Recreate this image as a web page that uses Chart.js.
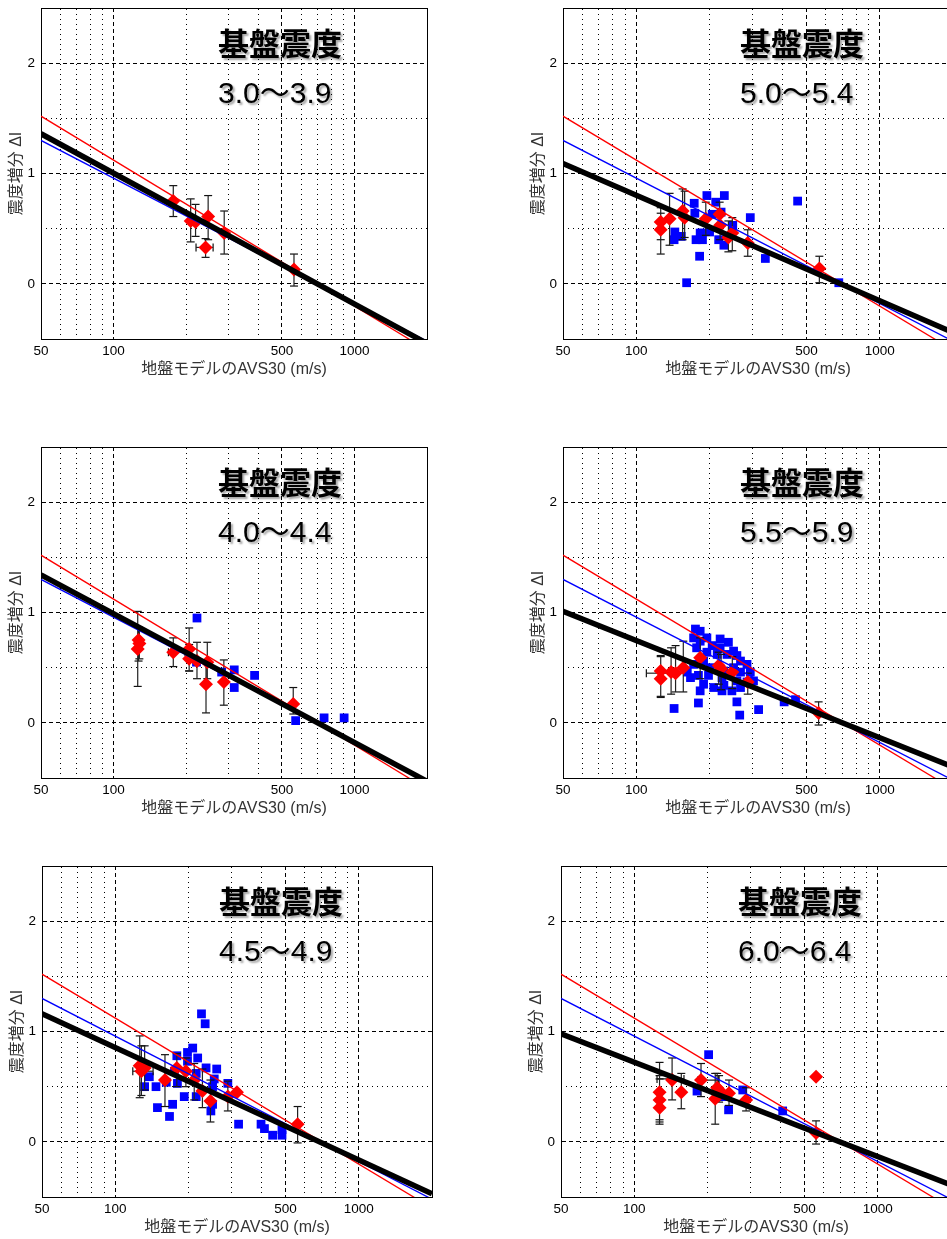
<!DOCTYPE html>
<html>
<head>
<meta charset="utf-8">
<script src="https://cdn.jsdelivr.net/npm/chart.js@4.4.1/dist/chart.umd.min.js"></script>
<style>
html, body { margin: 0; padding: 0; background: #fff; }
body { position: relative; width: 947px; height: 1239px; overflow: hidden; }
canvas { position: absolute; }
.head { position: absolute; white-space: nowrap; color: #000; text-shadow: 2px 2px 2px rgba(0,0,0,0.35); }
.t1 { font: bold 31px "Noto Sans CJK JP"; line-height: 31px; }
.t2 { font: 30px "Liberation Sans", "Noto Sans CJK JP"; line-height: 30px; }
</style>
</head>
<body>
<script>
// panel order: row by row, left then right
const ranges = ['3.0～3.9', '5.0～5.4', '4.0～4.4', '5.5～5.9', '4.5～4.9', '6.0～6.4'];

// axis ticks
const xMajor = [50, 100, 500, 1000];
const xMinor = [60, 70, 80, 90, 200, 300, 400, 600, 700, 800, 900];
const yMajor = [0, 1, 2];
const yMinor = [0.5, 1.5];

// regression lines: value at AVS30 = 50 and 2000
const redFit = [1.52, -0.60];
const blueFit = [1.30, -0.52];
const blackStart = [1.36, 1.09, 1.34, 1.01, 1.16, 0.98];
const blackEnd = [-0.54, -0.44, -0.53, -0.40, -0.47, -0.39];

// red diamonds: [AVS30, dI, low, high]
const red1 = [[177, 0.75, 0.61, 0.89], [209, 0.57, 0.38, 0.77], [219, 0.56, 0.43, 0.72], [247, 0.61, 0.40, 0.80],
  [241, 0.33, 0.24, 0.41], [288, 0.46, 0.27, 0.66], [561, 0.13, -0.02, 0.27]];
const red2 = [[126, 0.56, 0.40, 0.69], [126, 0.49, 0.27, 0.64], [137, 0.59, 0.35, 0.82], [155, 0.66, 0.40, 0.86],
  [158, 0.60, 0.42, 0.84], [193, 0.59, 0.44, 0.74], [220, 0.63, 0.50, 0.74], [221, 0.53, 0.40, 0.66],
  [239, 0.42, 0.29, 0.57], [248, 0.46, 0.30, 0.60], [287, 0.37, 0.25, 0.49], [565, 0.14, 0.01, 0.25]];
const red3 = [[126, 0.67, 0.33, 1.01], [127, 0.75, 0.56, 0.87], [128, 0.72, 0.58, 0.86], [177, 0.64, 0.51, 0.77],
  [206, 0.67, 0.47, 0.86], [206, 0.58, 0.47, 0.71], [222, 0.56, 0.40, 0.73], [245, 0.55, 0.40, 0.73],
  [242, 0.35, 0.09, 0.55], [287, 0.37, 0.16, 0.57], [557, 0.17, 0.08, 0.32]];
const red4 = [[126, 0.47, 0.24, 0.61], [126, 0.40, 0.23, 0.60], [139, 0.46, 0.26, 0.68], [145, 0.45, 0.28, 0.70],
  [156, 0.50, 0.28, 0.74], [183, 0.59, 0.40, 0.77], [218, 0.52, 0.35, 0.64], [223, 0.49, 0.30, 0.62],
  [248, 0.46, 0.31, 0.60], [287, 0.37, 0.26, 0.45], [561, 0.09, -0.02, 0.19]];
const red5 = [[126, 0.69, 0.40, 0.96], [128, 0.64, 0.42, 0.87], [132, 0.67, 0.47, 0.87], [160, 0.56, 0.32, 0.79],
  [179, 0.67, 0.50, 0.80], [195, 0.64, 0.50, 0.76], [211, 0.56, 0.38, 0.71], [228, 0.46, 0.31, 0.66],
  [246, 0.37, 0.18, 0.56], [290, 0.41, 0.28, 0.55], [316, 0.45, null, null], [561, 0.16, -0.01, 0.32]];
const red6 = [[127, 0.45, 0.20, 0.72], [127, 0.38, 0.18, 0.60], [127, 0.31, 0.16, 0.57], [143, 0.56, 0.38, 0.76],
  [156, 0.45, 0.30, 0.62], [188, 0.56, 0.41, 0.71], [219, 0.49, 0.38, 0.62], [223, 0.47, 0.36, 0.60],
  [215, 0.39, 0.16, 0.62], [245, 0.44, 0.33, 0.56], [288, 0.38, 0.28, 0.49], [558, 0.59, null, null],
  [558, 0.08, -0.02, 0.19]];

// horizontal error bars: [AVS30, dI, low AVS30, high AVS30]
const xerr1 = [[241, 0.33, 220, 259]];
const xerr2 = [];
const xerr3 = [[177, 0.64, 169, 198]];
const xerr4 = [[126, 0.45, 110, 142]];
const xerr5 = [[126, 0.64, 118, 143]];
const xerr6 = [[143, 0.57, 124, 160], [200, 0.56, 183, 222]];

// blue squares: [AVS30, dI]
const blue1 = [];
const blue2 = [[161, 0.01], [182, 0.25], [195, 0.80], [230, 0.80], [212, 0.74], [173, 0.73], [460, 0.75], [294, 0.60],
  [223, 0.65], [174, 0.64], [249, 0.53], [144, 0.47], [143, 0.40], [153, 0.43], [176, 0.40], [187, 0.40],
  [183, 0.46], [200, 0.47], [218, 0.40], [229, 0.35], [339, 0.23], [679, 0.01], [205, 0.63], [186, 0.46]];
const blue3 = [[222, 0.95], [221, 0.55], [317, 0.48], [317, 0.32], [281, 0.46], [385, 0.43], [570, 0.02],
  [748, 0.045], [906, 0.045]];
const blue4 = [[175, 0.85], [183, 0.83], [172, 0.77], [195, 0.77], [221, 0.76], [239, 0.73], [183, 0.74], [205, 0.70],
  [221, 0.68], [251, 0.65], [177, 0.68], [195, 0.64], [215, 0.62], [236, 0.62], [259, 0.61], [268, 0.56],
  [285, 0.53], [172, 0.53], [189, 0.56], [201, 0.50], [229, 0.47], [251, 0.50], [268, 0.46], [294, 0.46],
  [162, 0.46], [180, 0.43], [198, 0.43], [225, 0.41], [259, 0.38], [285, 0.37], [303, 0.38], [189, 0.35],
  [208, 0.32], [229, 0.34], [183, 0.29], [225, 0.29], [247, 0.29], [268, 0.32], [180, 0.18], [259, 0.19],
  [318, 0.12], [266, 0.07], [143, 0.13], [167, 0.41], [405, 0.19], [451, 0.21]];
const blue5 = [[226, 1.16], [234, 1.07], [208, 0.85], [198, 0.81], [179, 0.78], [218, 0.76], [198, 0.73], [236, 0.67],
  [261, 0.66], [175, 0.64], [215, 0.62], [138, 0.59], [255, 0.57], [290, 0.53], [180, 0.53], [162, 0.54],
  [132, 0.50], [147, 0.50], [251, 0.50], [192, 0.41], [215, 0.41], [172, 0.34], [251, 0.34], [149, 0.31],
  [247, 0.28], [167, 0.23], [321, 0.16], [397, 0.16], [410, 0.12], [443, 0.06], [484, 0.06], [484, 0.11]];
const blue6 = [[202, 0.79], [181, 0.46], [244, 0.29], [279, 0.47], [407, 0.28], [233, 0.41]];

const reds = [red1, red2, red3, red4, red5, red6];
const blues = [blue1, blue2, blue3, blue4, blue5, blue6];
const xerrs = [xerr1, xerr2, xerr3, xerr4, xerr5, xerr6];

// chart area of each panel in page pixels: left, top, width, height
const frames = [[41, 8, 386, 331], [563, 8, 390, 331], [41, 447, 386, 331],
  [563, 447, 390, 331], [42, 866, 390, 331], [561, 866, 390, 331]];

const fam = '"Liberation Sans", "Noto Sans CJK JP", sans-serif';
const tickFont = { family: fam, size: 13.5 };
const titleFont = { family: fam, size: 16 };

function setTicks(vals) {
  return s => { s.ticks = vals.map(v => ({ value: v })); };
}

function makeScales() {
  return {
    x: {
      type: 'logarithmic', position: 'bottom', min: 50, max: 2000,
      afterBuildTicks: setTicks(xMajor),
      afterFit: s => { s.height = 46; s.paddingLeft = 0; s.paddingRight = 0; },
      ticks: { autoSkip: false, maxRotation: 0, padding: 4, color: '#000', font: tickFont, callback: v => String(v) },
      grid: { color: '#000', lineWidth: 1, drawTicks: false },
      border: { display: true, color: '#000', width: 1, dash: [4, 3] },
      title: { display: true, text: '地盤モデルのAVS30 (m/s)', color: '#333', font: titleFont, padding: { top: 0, bottom: 6 } }
    },
    x2: {
      type: 'logarithmic', position: 'top', min: 50, max: 2000,
      afterBuildTicks: setTicks(xMinor),
      afterFit: s => { s.height = 0; s.paddingLeft = 0; s.paddingRight = 0; },
      ticks: { display: false },
      grid: { color: '#000', lineWidth: 1, drawTicks: false },
      border: { display: true, color: '#000', width: 1, dash: [1, 4] }
    },
    y: {
      type: 'linear', position: 'left', min: -0.5, max: 2.5,
      afterBuildTicks: setTicks(yMajor),
      afterFit: s => { s.width = 41; s.paddingTop = 0; s.paddingBottom = 0; },
      ticks: { padding: 6, color: '#000', font: tickFont },
      grid: { color: '#000', lineWidth: 1, drawTicks: false },
      border: { display: true, color: '#000', width: 1, dash: [4, 3] },
      title: { display: true, text: '震度増分 ΔI', color: '#333', font: titleFont, padding: { top: 7, bottom: 0 } }
    },
    y2: {
      type: 'linear', position: 'right', min: -0.5, max: 2.5,
      afterBuildTicks: setTicks(yMinor),
      afterFit: s => { s.width = 0; s.paddingTop = 0; s.paddingBottom = 0; },
      ticks: { display: false },
      grid: { color: '#000', lineWidth: 1, drawTicks: false },
      border: { display: true, color: '#000', width: 1, dash: [1, 4] }
    }
  };
}

function makeDatasets(i) {
  const vSeg = [], vCap = [], hSeg = [], hCap = [];
  reds[i].forEach(([v, d, lo, hi]) => {
    if (lo === null) return;
    vSeg.push({ x: v, y: lo }, { x: v, y: hi }, { x: v, y: null });
    vCap.push({ x: v, y: lo }, { x: v, y: hi });
  });
  xerrs[i].forEach(([v, d, lo, hi]) => {
    hSeg.push({ x: lo, y: d }, { x: hi, y: d }, { x: hi, y: null });
    hCap.push({ x: lo, y: d }, { x: hi, y: d });
  });
  const fitLine = (a, b) => [{ x: 50, y: a }, { x: 2000, y: b }];
  return [
    { data: fitLine(blackStart[i], blackEnd[i]), showLine: true, borderColor: '#000', borderWidth: 5.5, pointRadius: 0, clip: 0, order: 0 },
    { data: fitLine(blueFit[0], blueFit[1]), showLine: true, borderColor: '#0000ff', borderWidth: 1.3, pointRadius: 0, clip: 0, order: 1 },
    { data: fitLine(redFit[0], redFit[1]), showLine: true, borderColor: '#ff0000', borderWidth: 1.3, pointRadius: 0, clip: 0, order: 2 },
    { data: reds[i].map(r => ({ x: r[0], y: r[1] })), pointStyle: 'rectRot', pointRadius: 7, backgroundColor: '#ff0000', borderWidth: 0, order: 3 },
    { data: vSeg, showLine: true, spanGaps: false, borderColor: '#222', borderWidth: 1.2, pointRadius: 0, order: 4 },
    { data: vCap, pointStyle: 'line', pointRadius: 4, borderColor: '#111', borderWidth: 1.2, order: 4 },
    { data: hSeg, showLine: true, spanGaps: false, borderColor: '#222', borderWidth: 1.2, pointRadius: 0, order: 4 },
    { data: hCap, pointStyle: 'line', pointRotation: 90, pointRadius: 4, borderColor: '#111', borderWidth: 1.2, order: 4 },
    { data: blues[i].map(b => ({ x: b[0], y: b[1] })), pointStyle: 'rect', pointRadius: 6.2, backgroundColor: '#0000ff', borderWidth: 0, order: 5 }
  ];
}

frames.forEach(([L, T, W, H], i) => {
  const cv = document.createElement('canvas');
  const cw = 41 + W + 12, ch = 8 + H + 46;
  cv.width = cw; cv.height = ch;
  cv.style.left = (L - 41) + 'px';
  cv.style.top = (T - 8) + 'px';
  cv.style.width = cw + 'px';
  cv.style.height = ch + 'px';
  document.body.appendChild(cv);

  new Chart(cv, {
    type: 'scatter',
    data: { datasets: makeDatasets(i) },
    options: {
      responsive: false,
      animation: false,
      devicePixelRatio: 1,
      events: [],
      layout: { padding: { top: 8, right: 12, left: 0, bottom: 0 } },
      plugins: { legend: { display: false }, tooltip: { enabled: false } },
      scales: makeScales()
    }
  });

  const h1 = document.createElement('div');
  h1.className = 'head t1';
  h1.textContent = '基盤震度';
  h1.style.left = (L + 177) + 'px';
  h1.style.top = (T + 18) + 'px';
  document.body.appendChild(h1);

  const h2 = document.createElement('div');
  h2.className = 'head t2';
  h2.textContent = ranges[i];
  h2.style.left = (L + 177) + 'px';
  h2.style.top = (T + 70) + 'px';
  document.body.appendChild(h2);
});
</script>
</body>
</html>
